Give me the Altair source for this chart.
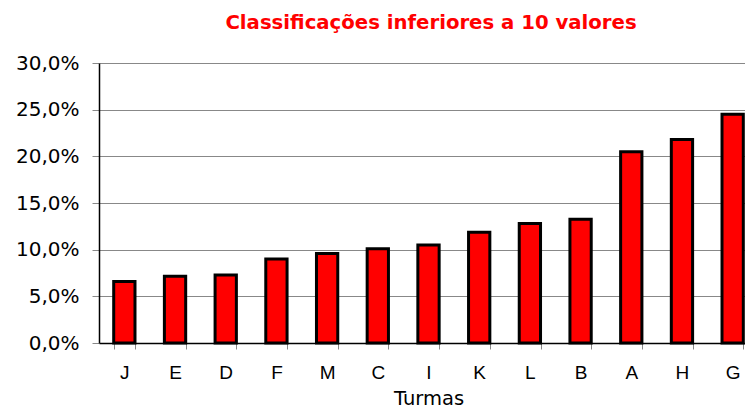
import altair as alt
import pandas as pd

turmas = ["J", "E", "D", "F", "M", "C", "I", "K", "L", "B", "A", "H", "G"]
valores = [0.066, 0.0714, 0.0728, 0.090, 0.096, 0.101, 0.105, 0.1186, 0.128, 0.1325, 0.205, 0.218, 0.245]
y_ticks = [0.0, 0.05, 0.10, 0.15, 0.20, 0.25, 0.30]
titulo = "Classificações inferiores a 10 valores"

df = pd.DataFrame({"Turma": turmas, "Valor": valores})

FONT = "DejaVu Sans"
XFONT = "Liberation Sans"

chart = (
    alt.Chart(df)
    .mark_bar(color="#FF0000", stroke="#000000", strokeWidth=3)
    .encode(
        x=alt.X(
            "Turma:N",
            sort=turmas,
            title="Turmas",
            scale=alt.Scale(paddingInner=0.58, paddingOuter=0.29, range=[0, 659]),
            axis=alt.Axis(
                labelAngle=0,
                labelFont=XFONT,
                labelFontSize=19,
                labelColor="#000000",
                labelPadding=14,
                titleFont=FONT,
                titleFontSize=19.5,
                titleFontWeight="normal",
                titleColor="#000000",
                titlePadding=7,
                tickBand="extent",
                tickColor="#888888",
                tickSize=6,
                domainColor="#000000",
                domainWidth=1.5,
                grid=False,
            ),
        ),
        y=alt.Y(
            "Valor:Q",
            title=None,
            scale=alt.Scale(domain=[0, 0.30], nice=False),
            axis=alt.Axis(
                values=y_ticks,
                labelExpr="replace(format(datum.value, '.1%'), '.', ',')",
                labelFont=FONT,
                labelFontSize=20,
                labelColor="#000000",
                labelPadding=13,
                tickColor="#888888",
                tickSize=7,
                domainColor="#000000",
                domainWidth=1.5,
                grid=True,
                gridColor="#888888",
                gridWidth=1.2,
            ),
        ),
    )
    .properties(
        width=646,
        height=280,
        title=alt.TitleParams(
            titulo,
            font=FONT,
            fontSize=19.7,
            fontWeight="bold",
            color="#FF0000",
            anchor="middle",
            offset=20,
            dx=9,
        ),
        autosize=alt.AutoSizeParams(type="none"),
        padding={"left": 91, "top": 55, "right": 0, "bottom": 71},
    )
    .configure_view(stroke=None)
)

chart.save("out.html", embed_options={"renderer": "svg", "actions": False})
